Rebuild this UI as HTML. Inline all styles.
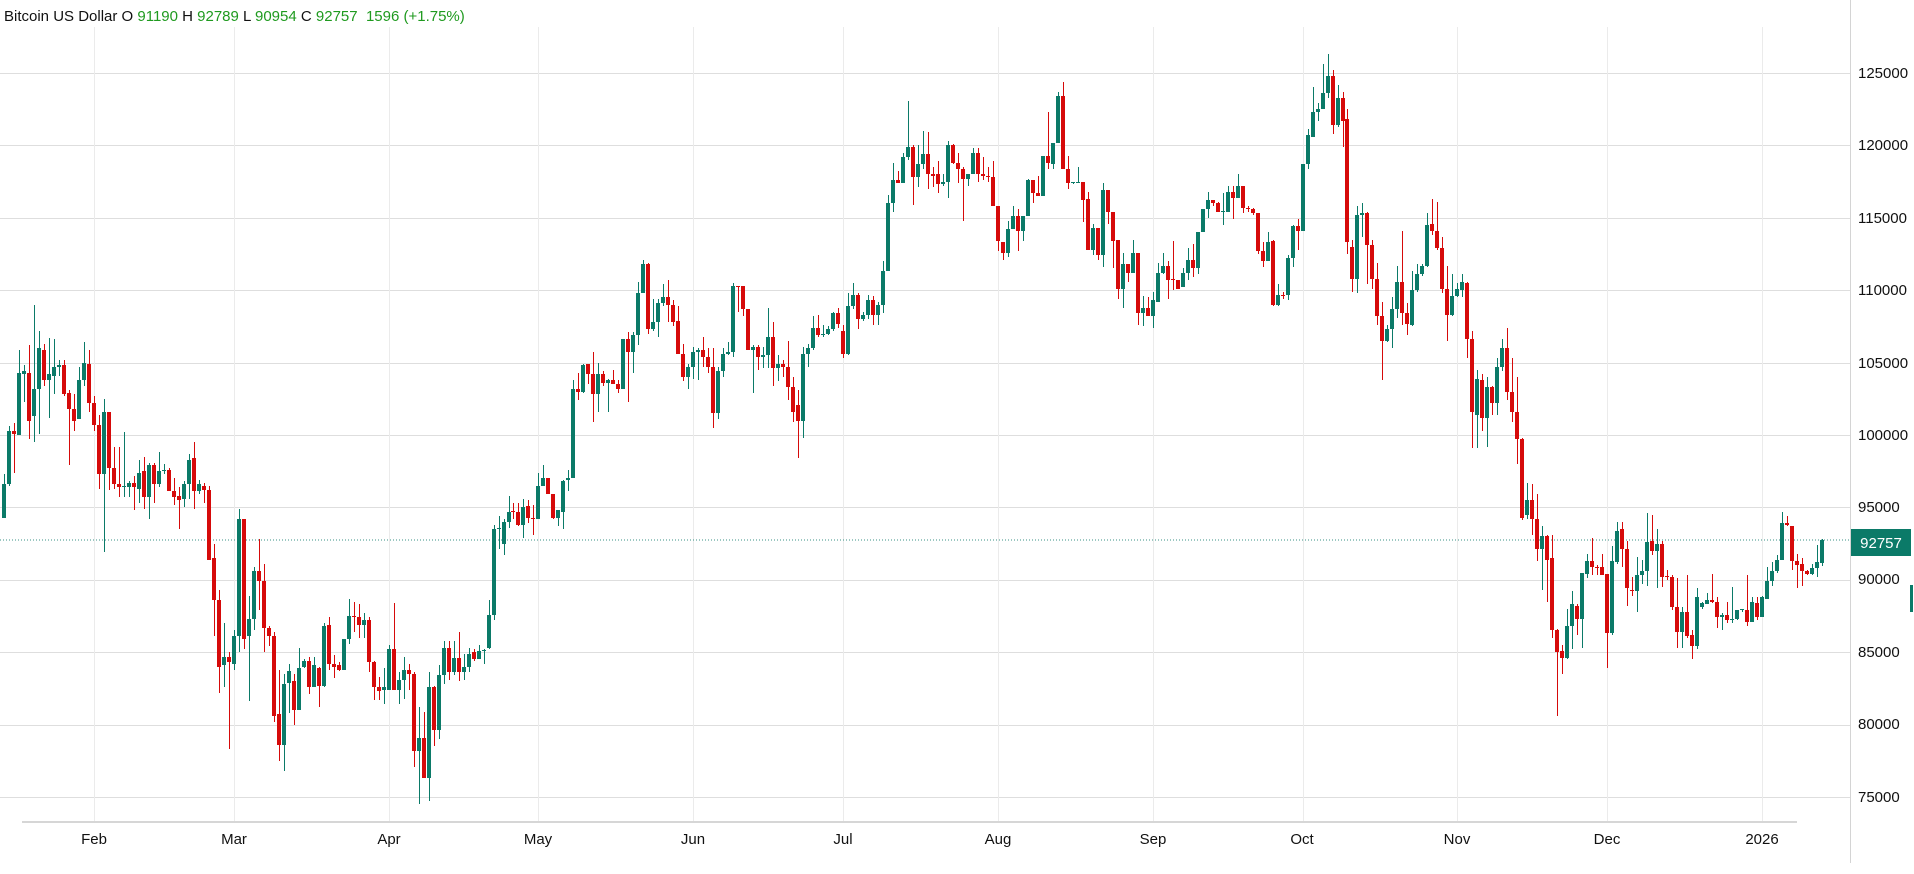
<!DOCTYPE html>
<html>
<head>
<meta charset="utf-8">
<style>
  html,body{margin:0;padding:0;background:#fff;width:1914px;height:874px;overflow:hidden;}
  svg{display:block;font-family:"Liberation Sans",Arial,sans-serif;}
  .ax{font-size:15px;fill:#111;}
</style>
</head>
<body>
<svg id="c" width="1914" height="874" viewBox="0 0 1914 874" xmlns="http://www.w3.org/2000/svg" shape-rendering="crispEdges">
  <rect x="0" y="0" width="1914" height="874" fill="#fff"/>
  <g id="grid"></g>
  <!-- current price dotted line -->
  <line x1="0" y1="540" x2="1850" y2="540" stroke="#3a9184" stroke-width="1" stroke-dasharray="1,2"/>
  <g id="candles"></g>
  <!-- right axis line -->
  <rect x="1850" y="0" width="1" height="863" fill="#d4d4d4"/>
  <!-- bottom axis line -->
  <rect x="22" y="821" width="1775" height="2" fill="#d6d6d6"/>
  <!-- title -->
  <text x="4" y="21" font-size="15" style="white-space:pre" fill="#111">Bitcoin US Dollar O <tspan fill="#1f9a1f">91190</tspan> H <tspan fill="#1f9a1f">92789</tspan> L <tspan fill="#1f9a1f">90954</tspan> C <tspan fill="#1f9a1f">92757</tspan><tspan fill="#1f9a1f">  1596 (+1.75%)</tspan></text>
  <!-- y labels -->
  <text class="ax" x="1858" y="78">125000</text>
  <text class="ax" x="1858" y="150">120000</text>
  <text class="ax" x="1858" y="223">115000</text>
  <text class="ax" x="1858" y="295">110000</text>
  <text class="ax" x="1858" y="368">105000</text>
  <text class="ax" x="1858" y="440">100000</text>
  <text class="ax" x="1858" y="512">95000</text>
  <text class="ax" x="1858" y="584">90000</text>
  <text class="ax" x="1858" y="657">85000</text>
  <text class="ax" x="1858" y="729">80000</text>
  <text class="ax" x="1858" y="802">75000</text>
  <!-- price tag -->
  <rect x="1851" y="529" width="60" height="27" fill="#0b7a68"/>
  <text x="1881" y="548" font-size="15" fill="#fff" text-anchor="middle">92757</text>
  <rect x="1910" y="585" width="3" height="27" fill="#0b7a68"/>
  <!-- month labels -->
  <text class="ax" x="94" y="844" text-anchor="middle">Feb</text>
  <text class="ax" x="234" y="844" text-anchor="middle">Mar</text>
  <text class="ax" x="389" y="844" text-anchor="middle">Apr</text>
  <text class="ax" x="538" y="844" text-anchor="middle">May</text>
  <text class="ax" x="693" y="844" text-anchor="middle">Jun</text>
  <text class="ax" x="843" y="844" text-anchor="middle">Jul</text>
  <text class="ax" x="998" y="844" text-anchor="middle">Aug</text>
  <text class="ax" x="1153" y="844" text-anchor="middle">Sep</text>
  <text class="ax" x="1302" y="844" text-anchor="middle">Oct</text>
  <text class="ax" x="1457" y="844" text-anchor="middle">Nov</text>
  <text class="ax" x="1607" y="844" text-anchor="middle">Dec</text>
  <text class="ax" x="1762" y="844" text-anchor="middle">2026</text>
</svg>
<script>
(function(){
var NS="http://www.w3.org/2000/svg";
var D=[
[94.3,97.3,94.3,96.6],[96.6,100.6,96.5,100.3],[100.3,100.8,97.4,100.1],[100.0,105.9,100.0,104.3],[104.2,104.8,102.3,104.4],[104.3,106.2,99.7,101.0],[101.3,109.0,99.5,103.2],[103.2,107.2,100.1,106.0],[105.9,106.3,103.4,103.8],[103.8,106.7,101.2,104.2],
[104.1,106.6,102.8,104.7],[104.7,105.2,104.1,104.8],[104.8,105.2,102.7,102.8],[102.9,103.1,97.9,101.8],[101.8,102.8,100.3,101.0],[101.1,104.7,101.1,103.8],[103.8,106.4,103.4,105.0],[104.9,105.9,101.6,102.2],[102.2,102.7,100.3,100.7],[100.7,101.4,96.3,97.3],
[97.3,102.5,91.9,101.6],[101.6,101.6,96.2,97.7],[97.7,99.2,96.3,96.6],[96.6,99.2,95.7,96.4],[96.4,100.2,95.7,96.45],[96.4,96.8,95.7,96.7],[96.7,97.2,94.8,96.4],[96.3,98.3,95.3,97.4],[97.5,98.5,94.9,95.7],[95.7,98.1,94.2,97.9],
[97.9,98.1,95.3,96.6],[96.6,98.8,96.4,97.5],[97.5,98.0,97.3,97.6],[97.6,97.7,96.1,96.1],[96.1,97.0,95.2,95.7],[95.8,96.4,93.5,95.5],[95.6,96.8,95.0,96.6],[96.6,98.7,95.6,98.3],[98.4,99.5,94.9,96.1],[96.1,96.9,95.9,96.6],
[96.5,96.7,95.3,96.2],[96.2,96.5,91.4,91.4],[91.5,92.5,86.1,88.6],[88.6,89.3,82.2,84.0],[84.1,87.0,82.6,84.7],[84.7,85.0,78.3,84.3],[84.2,86.5,83.8,86.1],[86.1,94.9,85.0,94.2],[94.2,94.2,85.2,85.9],[86.1,88.9,81.6,87.3],
[87.3,90.9,86.5,90.6],[90.6,92.8,87.9,89.9],[89.9,91.1,85.0,86.7],[86.7,86.8,85.4,86.1],[86.1,86.4,80.2,80.6],[80.7,83.8,77.5,78.6],[78.6,83.5,76.8,82.8],[82.9,84.2,80.8,83.7],[83.0,83.5,80.0,81.0],[81.0,85.3,81.0,83.9],
[84.0,84.5,83.9,84.4],[84.4,84.7,82.1,82.6],[82.6,84.7,82.6,84.1],[83.9,84.0,81.2,82.7],[82.7,87.0,82.6,86.8],[86.9,87.4,83.8,84.2],[84.2,84.8,83.2,84.0],[84.1,84.3,83.7,83.8],[83.8,85.9,83.8,85.9],[85.9,88.7,85.6,87.5],
[87.5,88.5,86.4,87.4],[87.4,88.3,86.0,86.9],[86.9,87.7,86.0,87.2],[87.2,87.4,83.6,84.3],[84.3,84.4,81.7,82.6],[82.6,83.3,81.7,82.3],[82.4,83.9,81.4,82.6],[82.4,85.5,82.4,85.2],[85.2,88.4,82.4,82.4],[82.4,83.6,81.4,83.1],
[83.1,84.7,81.8,83.8],[83.8,84.2,82.4,83.5],[83.5,83.6,77.1,78.2],[78.2,81.2,74.5,79.1],[79.1,80.9,76.3,76.3],[76.3,83.6,74.7,82.6],[82.6,82.7,78.5,79.6],[79.6,84.1,79.0,83.4],[83.4,85.8,82.8,85.3],[85.3,85.8,83.1,83.6],
[83.6,85.8,83.4,84.6],[84.6,86.4,83.0,83.6],[83.6,84.9,83.1,84.0],[84.0,85.3,83.6,84.9],[85.0,85.2,84.4,84.5],[84.5,85.5,84.5,85.1],[85.1,85.2,84.2,85.15],[85.3,88.6,85.2,87.6],[87.6,93.8,87.2,93.5],[93.5,94.4,92.1,93.6],
[92.5,94.2,91.7,94.0],[94.0,95.8,93.6,94.7],[94.75,95.3,94.2,94.7],[94.7,95.3,93.7,93.8],[93.8,95.6,92.9,95.0],[95.1,95.5,93.9,94.3],[94.3,95.2,93.1,94.2],[94.2,97.4,94.2,96.5],[96.5,97.9,96.5,97.0],[97.0,97.0,95.9,95.9],
[95.9,95.9,94.2,94.3],[94.3,94.8,93.7,94.8],[94.7,96.9,93.5,96.8],[96.9,97.6,96.1,97.0],[97.0,103.8,97.0,103.2],[103.2,104.3,102.4,103.0],[103.0,104.9,102.9,104.8],[104.9,104.9,103.5,104.2],[104.2,105.7,100.9,102.8],[102.8,105.0,101.6,104.2],
[104.2,104.4,103.4,103.6],[103.6,103.9,101.6,103.8],[103.8,104.5,103.5,103.5],[103.5,103.8,102.9,103.2],[103.2,106.6,103.2,106.6],[106.6,107.1,102.3,105.7],[105.7,107.1,104.3,106.9],[106.9,110.6,106.2,109.8],[109.8,112.1,109.8,111.8],[111.8,111.9,107.0,107.3],
[107.3,109.4,107.2,107.8],[107.8,109.4,106.8,109.1],[109.1,110.4,108.9,109.5],[109.5,110.7,107.8,109.0],[109.0,109.3,107.5,107.8],[107.9,108.9,105.6,105.6],[105.6,106.3,103.7,104.0],[104.0,104.9,103.2,104.7],[104.7,106.1,103.9,105.7],[105.7,106.0,103.8,105.9],
[105.9,106.8,104.7,105.4],[105.4,106.0,104.3,104.7],[104.7,106.0,100.5,101.5],[101.5,104.7,101.1,104.4],[104.4,106.0,104.0,105.6],[105.6,106.4,105.5,105.7],[105.7,110.5,105.4,110.3],[110.3,110.3,108.5,110.2],[110.3,110.3,108.2,108.7],[108.7,108.7,105.9,105.9],
[105.9,106.2,102.9,106.1],[106.1,106.2,104.5,105.4],[105.4,106.1,104.6,105.5],[105.5,108.8,104.6,106.8],[106.8,107.8,103.4,104.6],[104.6,105.5,103.7,104.9],[104.9,105.2,104.0,104.7],[104.7,106.5,102.4,103.3],[103.3,104.0,100.9,101.6],[102.1,103.1,98.4,101.0],
[101.0,106.1,99.8,105.6],[105.6,106.3,104.7,106.0],[106.0,108.2,105.9,107.4],[107.4,108.3,106.8,106.9],[106.9,107.6,106.8,107.0],[107.0,107.5,106.9,107.3],[107.3,108.5,107.2,108.4],[108.4,108.8,107.4,107.7],[107.2,107.6,105.3,105.6],[105.6,109.8,105.5,108.9],
[108.9,110.5,108.7,109.7],[109.7,109.8,107.3,108.0],[108.0,108.5,107.9,108.3],[108.3,109.7,108.0,109.3],[109.3,109.6,107.6,108.3],[108.3,109.2,107.6,109.0],[109.0,112.0,108.4,111.3],[111.3,116.6,111.3,116.0],[116.0,118.8,115.4,117.6],[117.6,118.2,117.4,117.4],
[117.4,119.5,117.4,119.2],[119.2,123.1,119.0,119.9],[119.9,120.0,115.9,117.8],[117.8,120.0,117.1,118.7],[118.7,121.0,118.4,119.4],[119.4,120.9,117.0,118.0],[118.0,118.5,117.1,117.9],[118.0,118.9,116.7,117.3],[117.3,118.0,117.2,117.5],[117.5,120.3,116.4,120.0],
[120.0,120.1,118.7,118.8],[118.8,119.5,117.4,118.4],[118.4,118.5,114.8,117.7],[117.7,118.0,117.2,118.0],[118.0,119.8,118.0,119.5],[119.5,119.8,117.5,118.0],[118.0,119.2,117.6,117.9],[117.9,118.5,117.5,117.8],[117.8,118.9,115.8,115.8],[115.8,115.8,112.7,113.4],
[113.3,113.3,112.1,112.6],[112.6,114.8,112.3,114.2],[114.2,115.8,114.2,115.1],[115.1,115.6,112.7,114.1],[114.1,115.1,113.4,115.1],[115.1,117.7,115.1,117.6],[117.6,117.6,116.0,116.7],[116.7,117.9,116.5,116.5],[116.5,119.3,116.5,119.3],[119.3,122.3,118.4,118.8],
[118.7,120.2,118.4,120.2],[120.2,123.7,120.2,123.4],[123.4,124.4,118.4,118.4],[118.4,119.3,117.0,117.4],[117.4,117.5,117.3,117.45],[117.45,118.5,117.4,117.5],[117.5,117.5,114.7,116.2],[116.3,116.8,112.8,112.8],[112.8,114.6,112.4,114.3],[114.3,114.3,112.1,112.4],
[112.4,117.4,111.6,116.9],[116.9,116.9,114.6,115.4],[115.4,115.4,111.5,113.4],[113.5,113.5,109.4,110.1],[110.1,112.6,108.8,111.8],[111.8,111.8,110.6,111.2],[111.2,113.5,111.2,112.6],[112.6,112.6,107.6,108.4],[108.4,109.6,107.5,108.8],[108.8,109.5,108.2,108.2],
[108.2,109.9,107.4,109.3],[109.2,111.9,109.2,111.2],[111.2,112.6,111.1,111.7],[111.7,112.0,109.4,110.7],[110.8,113.4,110.0,110.7],[110.7,110.7,110.1,110.1],[110.2,111.5,110.2,111.2],[111.2,112.9,110.7,112.1],[112.1,113.2,110.9,111.5],[111.5,114.0,111.1,114.0],
[114.0,115.6,114.0,115.6],[115.6,116.8,115.0,116.2],[116.2,116.2,115.8,116.0],[116.0,116.1,115.4,115.4],[115.4,116.7,114.5,115.45],[115.4,117.2,115.4,116.8],[116.8,117.2,114.9,116.4],[116.4,118.0,116.4,117.2],[117.2,117.2,115.3,115.7],[115.7,115.8,115.4,115.6],
[115.6,115.7,115.2,115.3],[115.3,115.3,112.5,112.7],[112.7,113.3,111.6,112.0],[112.0,114.0,112.0,113.3],[113.4,113.5,108.9,109.0],[109.0,110.4,108.9,109.7],[109.7,109.9,109.4,109.6],[109.7,112.4,109.3,112.2],[112.2,114.5,111.6,114.4],[114.4,114.9,112.8,114.1],
[114.1,118.7,114.1,118.7],[118.7,121.1,118.4,120.7],[120.6,124.0,120.6,122.3],[122.3,122.9,121.7,122.5],[122.5,125.6,122.5,123.6],[123.6,126.3,123.3,124.8],[124.8,125.2,120.8,121.4],[121.4,124.2,121.3,123.3],[123.3,123.7,119.9,121.7],[121.8,122.5,112.5,113.3],
[113.0,113.5,109.9,110.8],[110.8,115.8,109.8,115.2],[115.2,116.0,113.7,115.3],[115.3,115.4,110.4,113.1],[113.1,113.5,110.1,110.8],[110.8,111.9,107.6,108.2],[108.2,109.2,103.8,106.5],[106.5,107.6,106.4,107.3],[107.3,109.5,106.0,108.7],[108.7,111.7,108.1,110.6],
[110.6,114.1,107.6,108.4],[108.4,109.1,106.9,107.7],[107.6,111.3,107.5,110.0],[110.0,111.8,109.9,111.1],[111.1,111.8,111.0,111.7],[111.7,115.3,111.6,114.5],[114.6,116.3,113.8,114.1],[114.1,116.1,112.8,112.9],[112.9,113.7,109.8,110.1],[110.1,111.7,106.5,108.3],
[108.3,111.1,108.2,109.6],[109.6,110.5,109.5,110.05],[110.0,111.1,109.5,110.6],[110.5,110.6,105.3,106.6],[106.6,107.2,99.1,101.6],[101.4,104.5,99.1,103.9],[103.8,104.2,100.3,101.2],[101.2,104.0,99.2,103.3],[103.3,103.4,101.4,102.2],[102.2,105.3,101.4,104.7],
[104.7,106.6,104.4,106.0],[106.0,107.4,102.4,103.0],[103.0,105.3,100.9,101.6],[101.6,104.0,98.0,99.7],[99.7,99.8,94.1,94.3],[94.5,96.7,94.2,95.5],[95.5,96.6,93.1,94.2],[94.2,95.9,91.3,92.1],[92.1,93.7,89.3,93.0],[93.0,93.1,88.5,91.4],
[91.5,93.1,86.0,86.5],[86.5,86.6,80.6,85.0],[85.1,85.5,83.5,84.6],[84.6,88.0,84.5,86.8],[86.8,89.2,85.2,88.3],[88.2,88.3,86.2,87.3],[87.3,90.5,85.3,90.5],[90.4,91.8,90.1,91.3],[91.3,92.9,90.3,90.9],[90.9,91.0,90.3,90.8],
[90.9,91.8,90.3,90.3],[90.4,90.4,83.9,86.3],[86.3,92.3,86.2,91.3],[91.2,94.0,91.1,93.4],[93.5,94.0,90.9,92.1],[92.1,92.7,88.2,89.4],[89.3,90.2,88.9,89.2],[89.2,91.6,87.8,90.3],[90.3,91.4,89.7,90.6],[90.6,94.6,89.6,92.6],
[92.7,94.5,91.7,92.0],[92.0,93.5,89.4,92.5],[92.5,92.7,89.5,90.2],[90.25,90.7,90.0,90.2],[90.2,90.3,87.9,88.1],[88.1,90.1,85.3,86.4],[86.4,88.1,85.3,87.8],[87.8,90.3,86.0,86.1],[86.2,86.5,84.5,85.4],[85.4,89.4,85.2,88.8],
[88.1,88.5,88.0,88.4],[88.3,89.1,88.3,88.6],[88.6,90.4,88.4,88.5],[88.5,88.8,86.7,87.4],[87.4,87.7,86.5,87.6],[87.6,88.5,87.0,87.2],[87.2,89.5,87.0,87.3],[87.3,87.9,87.2,87.9],[87.9,88.0,87.8,87.95],[87.9,90.3,86.8,87.1],
[87.1,88.8,87.1,88.5],[88.4,88.8,87.2,87.4],[87.4,88.9,87.4,88.8],[88.7,90.9,88.7,89.9],[89.9,91.2,89.6,90.6],[90.6,91.7,90.5,91.4],[91.4,94.7,91.4,93.9],[93.9,94.4,93.7,93.8],[93.7,93.7,90.7,91.3],[91.3,91.8,89.4,91.0],
[91.1,91.5,89.6,90.6],[90.6,90.7,90.3,90.4],[90.4,91.1,90.3,90.8],[90.8,92.4,90.2,91.2],[91.19,92.789,90.954,92.757]
];
function Y(p){return 797-(p-75)*14.48;}
function rect(g,x,y,w,h,f){var r=document.createElementNS(NS,"rect");r.setAttribute("x",x);r.setAttribute("y",y);r.setAttribute("width",w);r.setAttribute("height",h);r.setAttribute("fill",f);g.appendChild(r);}
var grid=document.getElementById("grid");
// horizontal gridlines
for(var p=75;p<=125;p+=5){var y=Math.round(Y(p));rect(grid,0,y,1850,1,"#dedede");}
// vertical month gridlines
var mi=[18,46,77,107,138,168,199,230,260,291,321,352];
for(var k=0;k<mi.length;k++){var x=Math.round(94+4.994*(mi[k]-18));rect(grid,x,27,1,795,"#ebebeb");}
var g=document.getElementById("candles");
var GREEN="#0b7a68",RED="#d60a0a";
for(var i=0;i<D.length;i++){
  var o=D[i][0],h=D[i][1],l=D[i][2],c=D[i][3];
  h=Math.max(h,o,c);l=Math.min(l,o,c);
  var col=(c>=o)?GREEN:RED;
  var x=Math.round(94+4.994*(i-18));
  var yh=Math.round(Y(h)),yl=Math.round(Y(l));
  rect(g,x,yh,1,Math.max(1,yl-yh),col);
  var yt=Math.round(Y(Math.max(o,c))),yb=Math.round(Y(Math.min(o,c)));
  rect(g,x-2,yt,4,Math.max(1,yb-yt),col);
}
})();
</script>
</body>
</html>
